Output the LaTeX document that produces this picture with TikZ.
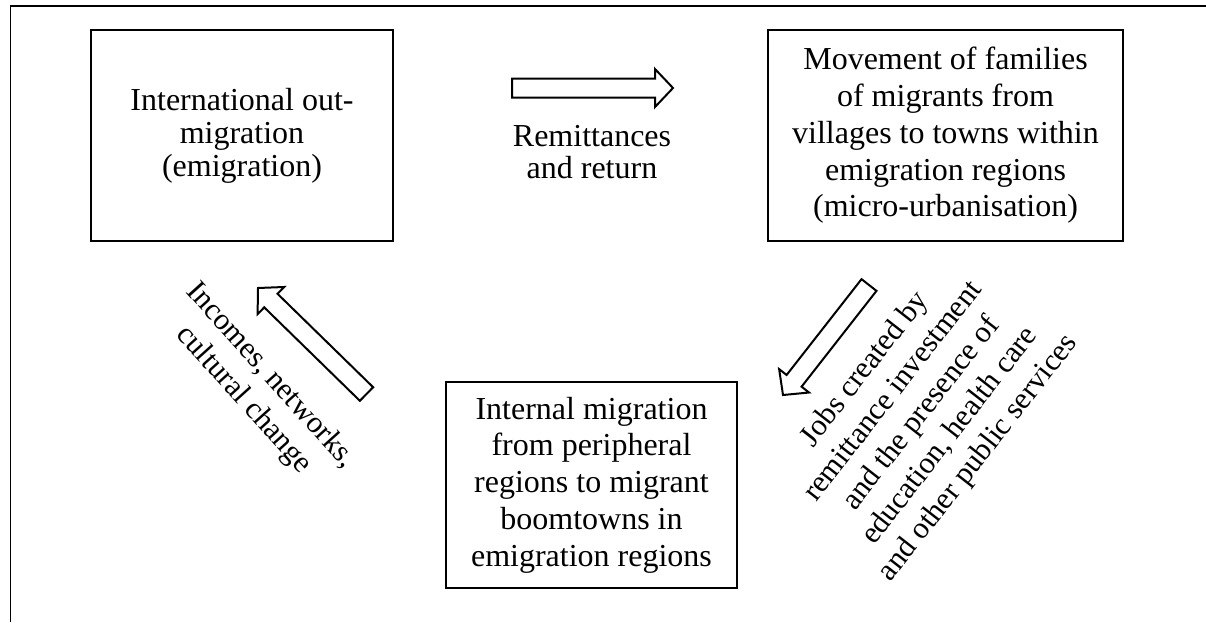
\documentclass[tikz,border=0pt]{standalone}
\usepackage{fontspec}
\setmainfont{Liberation Serif}
\usetikzlibrary{calc}
\tikzset{
  box/.style={draw, line width=1.3pt, inner sep=0pt, align=center, font=\fontsize{32}{36.7}\selectfont},
  lbl/.style={align=center, inner sep=0pt, font=\fontsize{32}{32}\selectfont},
  rotlbl/.style={align=center, inner sep=0pt, font=\fontsize{30.5}{36}\selectfont},
  blk/.style={draw, line width=2pt, fill=white, line join=miter},
  frameline/.style={line width=1.5pt},
}
\newcommand{\blockarrow}[3]{%
  \coordinate (#1h) at ($(#3)!18pt!(#2)$);
  \draw[blk] ($(#2)!9.5pt!90:(#3)$) -- ($(#1h)!9.5pt!90:(#3)$) -- ($(#1h)!19pt!90:(#3)$) -- (#3) -- ($(#1h)!19pt!-90:(#3)$) -- ($(#1h)!9.5pt!-90:(#3)$) -- ($(#2)!9.5pt!-90:(#3)$) -- cycle;
}
\begin{document}
\begin{tikzpicture}[x=1pt,y=-1pt]
\useasboundingbox (0,0) rectangle (1206,622);
\draw[frameline] (10.5,622) -- (10.5,6) -- (1206,6);
\node[box, minimum width=302pt, minimum height=211pt, font=\fontsize{32}{33}\selectfont] (emig) at (242,135.5) {International out-\\migration\\(emigration)};
\node[box, minimum width=355pt, minimum height=211pt] (micro) at (945.5,135.5) {Movement of families\\of migrants from\\villages to towns within\\emigration regions\\(micro-urbanisation)};
\node[box, minimum width=291pt, minimum height=206pt] (intern) at (591.5,485) {Internal migration\\from peripheral\\regions to migrant\\boomtowns in\\emigration regions};
\node[lbl] (rem) at (592,152) {Remittances\\and return};
\node[rotlbl, rotate=-48] (inc) at (257,388) {Incomes, networks,\\cultural change};
\node[rotlbl, rotate=52] (jobs) at (922,414) {Jobs created by\\remittance investment\\and the presence of\\education, health care\\and other public services};
\coordinate (rt) at (512,88); \coordinate (rp) at (673,88);
\coordinate (jt) at (869,285); \coordinate (jp) at (783,395);
\coordinate (it) at (366.5,394); \coordinate (ip) at (258,288);
\blockarrow{ra}{rt}{rp}
\blockarrow{ja}{jt}{jp}
\blockarrow{ia}{it}{ip}
\end{tikzpicture}
\end{document}
